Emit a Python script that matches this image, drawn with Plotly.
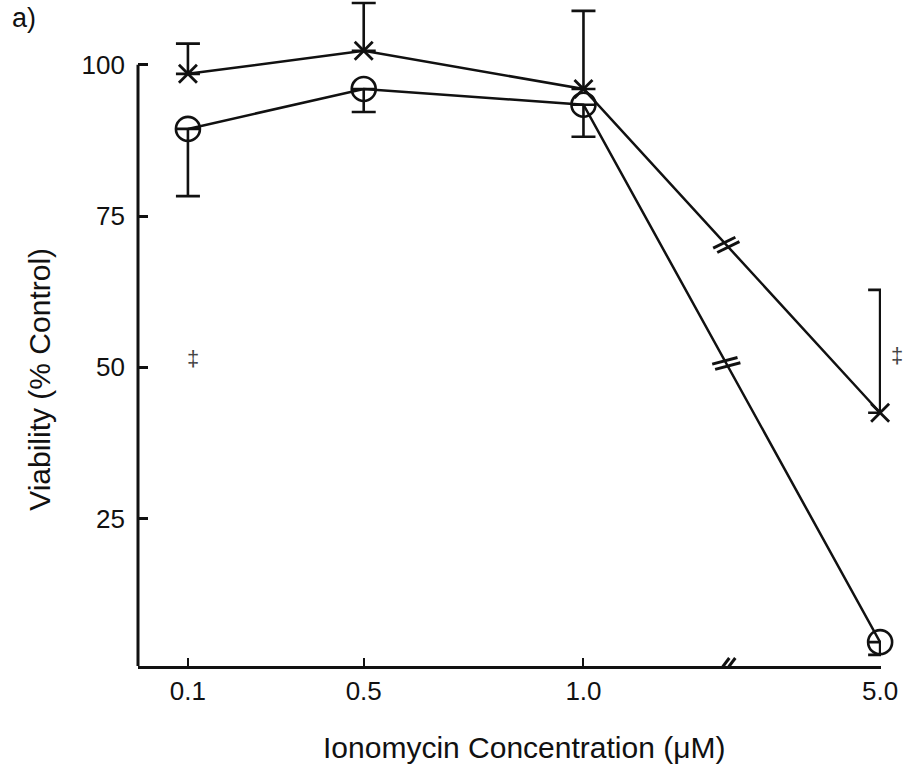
import plotly.graph_objects as go

# ---- data ----
concentration = [0.1, 0.5, 1.0, 5.0]          # µM
tick_labels = ["0.1", "0.5", "1.0", "5.0"]
cross_mean = [98.5, 102.3, 96.0, 42.5]        # series drawn with X markers
cross_err_up = [5.0, 7.9, 12.9, 20.3]
circle_mean = [89.4, 96.0, 93.4, 4.6]         # series drawn with open circles
circle_err_down = [11.1, 3.8, 5.3, 2.1]
y_ticks = [25, 50, 75, 100]

# ---- broken x axis: linear up to 1.0, then a break, 5.0 placed further right ----
FAR_POS = 1.675
BREAK_POS = 1.325


def disp(c):
    return c if c <= 1.0 else FAR_POS


xd = [disp(c) for c in concentration]

X_RANGE = [-0.0136, 1.677]
Y_RANGE = [0.66, 110.7]
W, H = 907, 767
L, R, T, B = 138, 26, 0, 101
px_x = (W - L - R) / (X_RANGE[1] - X_RANGE[0])
px_y = (H - T - B) / (Y_RANGE[1] - Y_RANGE[0])

FONT = "Liberation Sans, Arial, Helvetica, sans-serif"
BLACK = "#111111"

fig = go.Figure()

fig.add_trace(go.Scatter(
    x=xd, y=circle_mean, mode="lines+markers",
    line=dict(color=BLACK, width=2.5),
    marker=dict(symbol="circle-open", size=24, color=BLACK, line=dict(width=2.6)),
    error_y=dict(type="data", symmetric=False, array=[0] * 4, arrayminus=circle_err_down,
                 color=BLACK, thickness=2.6, width=12),
    cliponaxis=False, showlegend=False, hoverinfo="skip",
))
fig.add_trace(go.Scatter(
    x=xd, y=cross_mean, mode="lines+markers",
    line=dict(color=BLACK, width=2.5),
    marker=dict(symbol="x-thin", size=18, color=BLACK, line=dict(width=2.8, color=BLACK)),
    error_y=dict(type="data", symmetric=False, array=cross_err_up, arrayminus=[0] * 4,
                 color=BLACK, thickness=2.6, width=12),
    cliponaxis=False, showlegend=False, hoverinfo="skip",
))

shapes = []
# y axis line from bottom to the 100 tick
shapes.append(dict(type="line", xref="paper", yref="y", x0=0, x1=0, y0=Y_RANGE[0], y1=100,
                   line=dict(color=BLACK, width=3)))


def break_mark(xc, yc, dx, dy, ox, oy):
    out = []
    for s in (-1, 1):
        out.append(dict(type="line", xref="x", yref="y", xsizemode="pixel", ysizemode="pixel",
                        xanchor=xc, yanchor=yc,
                        x0=-dx + s * ox, x1=dx + s * ox, y0=-dy + s * oy, y1=dy + s * oy,
                        line=dict(color=BLACK, width=3)))
    return out


def interp_at(series):
    x0, x1 = xd[2], xd[3]
    y0, y1 = series[2], series[3]
    return y0 + (y1 - y0) * (BREAK_POS - x0) / (x1 - x0)


for series in (cross_mean, circle_mean):
    yb = interp_at(series)
    vx = (xd[3] - xd[2]) * px_x
    vy = (series[3] - series[2]) * px_y
    n = (vx ** 2 + vy ** 2) ** 0.5
    ux, uy = vx / n, vy / n
    px_, py_ = -uy, ux
    if py_ < 0:
        px_, py_ = -px_, -py_
    half = 11
    shapes += break_mark(BREAK_POS, yb, px_ * half + 3, py_ * half - 2, ux * 3, uy * 3)

# break on the x axis
shapes += break_mark(BREAK_POS, Y_RANGE[0], 6, 8, 3, 0)

fig.update_layout(
    width=W, height=H,
    margin=dict(l=L, r=R, t=T, b=B, autoexpand=False),
    paper_bgcolor="white", plot_bgcolor="white",
    font=dict(family=FONT, color=BLACK),
    shapes=shapes,
    xaxis=dict(
        range=X_RANGE, tickmode="array", tickvals=xd, ticktext=tick_labels,
        ticks="inside", ticklen=8, tickwidth=2, tickcolor=BLACK,
        showline=True, linewidth=3, linecolor=BLACK, mirror=False,
        showgrid=False, zeroline=False, tickfont=dict(size=26, color=BLACK),
        ticklabelstandoff=0,
    ),
    yaxis=dict(
        range=Y_RANGE, tickmode="array", tickvals=y_ticks,
        ticks="inside", ticklen=10, tickwidth=2.5, tickcolor=BLACK,
        showline=False, showgrid=False, zeroline=False, tickfont=dict(size=26, color=BLACK),
        ticklabelstandoff=12,
    ),
    annotations=[
        dict(text="Ionomycin Concentration (μM)", xref="paper", yref="paper",
             x=0.52, y=-0.122, xanchor="center", yanchor="middle", showarrow=False,
             font=dict(size=30, color=BLACK)),
        dict(text="Viability (% Control)", xref="paper", yref="y", x=-0.132, y=48.1,
             xanchor="center", yanchor="middle", textangle=-90, showarrow=False,
             font=dict(size=30, color=BLACK)),
        dict(text="a)", xref="paper", yref="paper", x=-0.172, y=0.973, xanchor="left",
             yanchor="middle", showarrow=False, font=dict(size=27, color=BLACK)),
        dict(text="‡", xref="x", yref="y", x=0.111, y=51.5, showarrow=False,
             font=dict(size=22, color="#444444")),
        dict(text="‡", xref="paper", yref="y", x=1.032, y=52, showarrow=False,
             font=dict(size=22, color="#444444")),
    ],
)

# remove the page's default body margin so the figure sits at the window's corner
fig.write_html("out.html", config={"displayModeBar": False},
               post_script="document.body.style.margin='0';")
